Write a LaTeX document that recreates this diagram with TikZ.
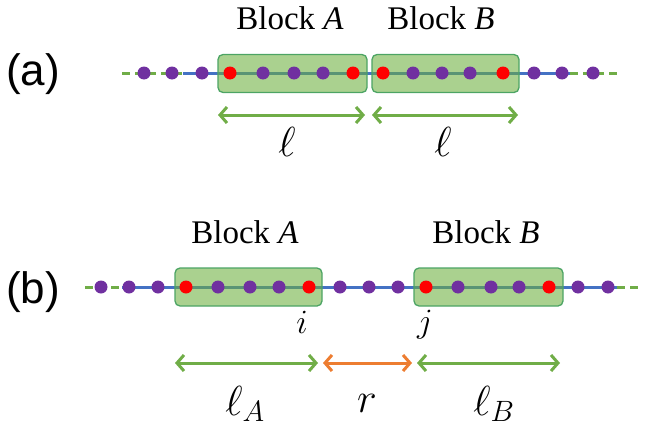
\RequirePackage{fix-cm}
\documentclass[tikz,border=0pt]{standalone}
\usepackage{fontspec}
\setmainfont{Liberation Serif}
\newfontfamily\labfont{Liberation Sans}
\usetikzlibrary{arrows.meta}
\definecolor{dotpurple}{HTML}{7030A0}
\definecolor{dotred}{HTML}{FF0000}
\definecolor{linblue}{HTML}{4472C4}
\definecolor{lingreen}{HTML}{70AD47}
\definecolor{boxfill}{HTML}{6AAE3A}
\definecolor{boxedge}{HTML}{4CA464}
\definecolor{arrorange}{HTML}{ED7D31}
\tikzset{
  pdot/.style={circle,fill=dotpurple,inner sep=0pt,minimum size=13pt},
  rdot/.style={circle,fill=dotred,inner sep=0pt,minimum size=13pt},
  bline/.style={draw=linblue,line width=3pt},
  gdash/.style={draw=lingreen,line width=3pt,dash pattern=on 8pt off 5pt},
  blockbox/.style={draw=boxedge,line width=1.3pt,fill=boxfill,fill opacity=0.57,rounded corners=5pt,inner sep=0pt,minimum height=38pt},
  dimarrow/.style={line width=3pt,{Straight Barb[length=7pt,width=16pt,line width=3pt]}-{Straight Barb[length=7pt,width=16pt,line width=3pt]}},
  blocklabel/.style={font=\fontsize{33}{38}\selectfont,inner sep=0pt},
  panellabel/.style={font=\labfont\fontsize{44}{50}\selectfont,inner sep=0pt},
  mathlabel/.style={font=\fontsize{42}{46}\selectfont,inner sep=0pt},
  idxlabel/.style={font=\fontsize{34}{38}\selectfont,inner sep=0pt},
}
\begin{document}
\begin{tikzpicture}[x=1pt,y=-1pt]
\useasboundingbox (0,0) rectangle (656,431);
% ---------- panel (a) ----------
\node[panellabel] (pa) at (33,74) {(a)};
\coordinate (a0) at (122,73);
\coordinate (a1) at (183,73);
\coordinate (a2) at (570,73);
\coordinate (a3) at (617,73);
\draw[gdash] (a0) -- (a1);
\draw[bline] (a1) -- (a2);
\draw[gdash] (a2) -- (a3);
\node[blockbox,minimum width=149pt] (boxaA) at (292.5,73.5) {};
\node[blockbox,minimum width=147pt] (boxaB) at (445.5,73.5) {};
\foreach \x/\n/\s in {144/1/pdot,172/2/pdot,202/3/pdot,230/4/rdot,263/5/pdot,294/6/pdot,323/7/pdot,353/8/rdot,383/9/rdot,413/10/pdot,442/11/pdot,470/12/pdot,503/13/rdot,534/14/pdot,562/15/pdot,593/16/pdot}
  \node[\s] (da\n) at (\x,73) {};
\node[blocklabel] (laA) at (290,18) {Block \textit{A}};
\node[blocklabel] (laB) at (441,18) {Block \textit{B}};
\coordinate (aw1) at (218,115);
\coordinate (aw2) at (365,115);
\coordinate (aw3) at (372,115);
\coordinate (aw4) at (518,115);
\draw[dimarrow,lingreen] (aw1) -- (aw2);
\draw[dimarrow,lingreen] (aw3) -- (aw4);
\node[mathlabel] (ella) at (287,142) {$\ell$};
\node[mathlabel] (ellb) at (443,142) {$\ell$};
% ---------- panel (b) ----------
\node[panellabel] (pb) at (33,292) {(b)};
\coordinate (b0) at (85,287);
\coordinate (b1) at (122,287);
\coordinate (b2) at (617,287);
\coordinate (b3) at (642,287);
\draw[gdash] (b0) -- (b1);
\draw[bline] (b1) -- (b2);
\draw[gdash] (b2) -- (b3);
\node[blockbox,minimum width=147pt] (boxbA) at (248.5,287) {};
\node[blockbox,minimum width=149pt] (boxbB) at (488.5,287) {};
\foreach \x/\n/\s in {101/1/pdot,129/2/pdot,158/3/pdot,186/4/rdot,218/5/pdot,250/6/pdot,279/7/pdot,309/8/rdot,340/9/pdot,369/10/pdot,398/11/pdot,426/12/rdot,458/13/pdot,491/14/pdot,519/15/pdot,549/16/rdot,578/17/pdot,608/18/pdot}
  \node[\s] (db\n) at (\x,287) {};
\node[blocklabel] (lbA) at (245,232) {Block \textit{A}};
\node[blocklabel] (lbB) at (486,232) {Block \textit{B}};
\node[idxlabel] (li) at (302,322) {$i$};
\node[idxlabel] (lj) at (425,325) {$j$};
\coordinate (bw1) at (175,363);
\coordinate (bw2) at (318,363);
\coordinate (bw3) at (323,363);
\coordinate (bw4) at (412,363);
\coordinate (bw5) at (417,363);
\coordinate (bw6) at (560,363);
\draw[dimarrow,lingreen] (bw1) -- (bw2);
\draw[dimarrow,arrorange] (bw3) -- (bw4);
\draw[dimarrow,lingreen] (bw5) -- (bw6);
\node[mathlabel] (ellA) at (245,404) {$\ell_A$};
\node[mathlabel] (rr) at (367,403) {$r$};
\node[mathlabel] (ellB) at (494,404) {$\ell_B$};
\end{tikzpicture}
\end{document}
